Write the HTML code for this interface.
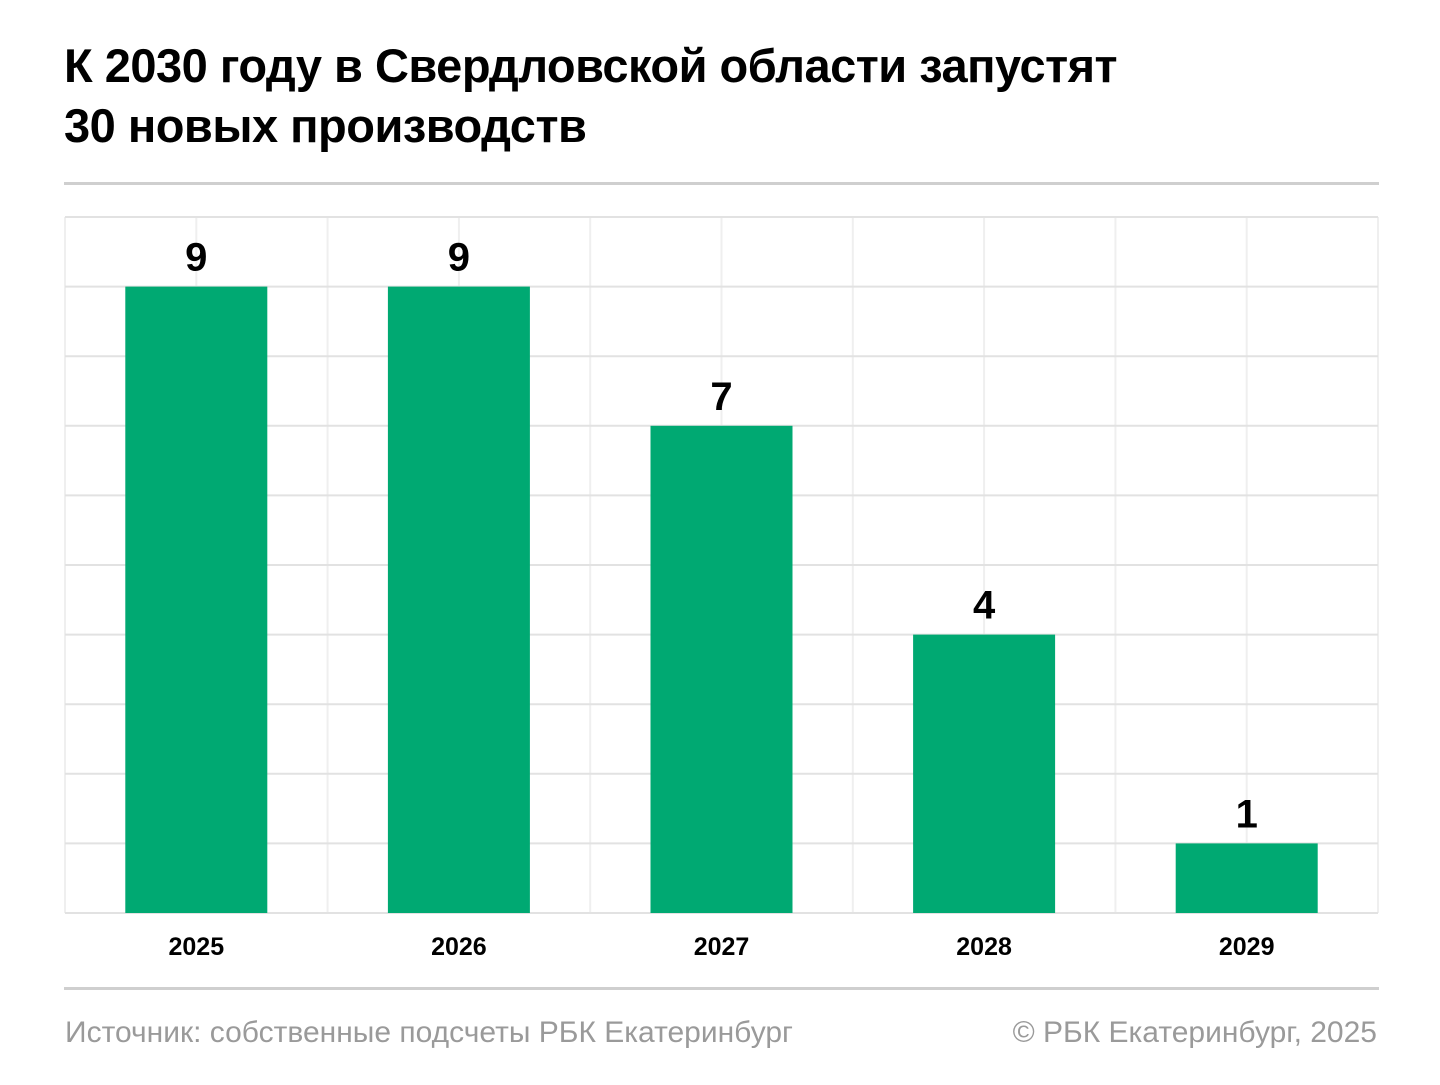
<!DOCTYPE html>
<html><head><meta charset="utf-8"><style>
body{margin:0;width:1440px;height:1085px;background:#fff;font-family:"Liberation Sans",sans-serif;position:relative;overflow:hidden}
.t{position:absolute;left:64px;top:36px;font-size:47px;font-weight:bold;line-height:60px;color:#000;letter-spacing:-0.5px}
.sep{position:absolute;left:64px;width:1315px;height:3px;background:#cfcfcf}
.f{position:absolute;top:1016px;font-size:30px;color:#9a9a9a}
</style></head><body>
<div class="t">К 2030 году в Свердловской области запустят<br>30 новых производств</div>
<div class="sep" style="top:182px"></div>
<div class="sep" style="top:987px"></div>
<div class="f" style="left:65px">Источник: собственные подсчеты РБК Екатеринбург</div>
<div class="f" style="right:63px">© РБК Екатеринбург, 2025</div>
<svg id="chart" width="1440" height="1085" style="position:absolute;left:0;top:0"></svg>
<script>
const categories=["2025","2026","2027","2028","2029"];
const values=[9,9,7,4,1];
const yMax=10;
const svg=document.getElementById('chart');
const NS='http://www.w3.org/2000/svg';
const L=65,R=1378,T=217,B=913;
const bw=(R-L)/categories.length;
function y(v){return B-(v/yMax)*(B-T);}
function x(i){return L+bw*(i+0.5);}
function mk(tag,attrs){const e=document.createElementNS(NS,tag);for(const k in attrs)e.setAttribute(k,attrs[k]);svg.appendChild(e);return e;}
for(let k=0;k<=categories.length*2;k++){
  const xx=L+k*bw/2;
  const l=mk('line',{x1:xx,x2:xx,y1:T,y2:B,stroke:'#efefef','stroke-width':2});
  
  
}
for(let v=0;v<=yMax;v++){
  const l=mk('line',{x1:L,x2:R,y1:y(v),y2:y(v),stroke:'#e2e2e2','stroke-width':2});
  
  
}
categories.forEach((c,i)=>{
  const r=mk('rect',{x:x(i)-71,y:y(values[i]),width:142,height:B-y(values[i]),fill:'#00a972'});
  
  
  const t=mk('text',{x:x(i),y:y(values[i])-16,'text-anchor':'middle','font-size':40,'font-weight':'bold',fill:'#000','font-family':'Liberation Sans, sans-serif'});
  t.textContent=values[i];
  
  
  const a=mk('text',{x:x(i),y:955,'text-anchor':'middle','font-size':25,'font-weight':'bold',fill:'#000','font-family':'Liberation Sans, sans-serif'});
  a.textContent=c;
  
  
});
</script>
</body></html>
